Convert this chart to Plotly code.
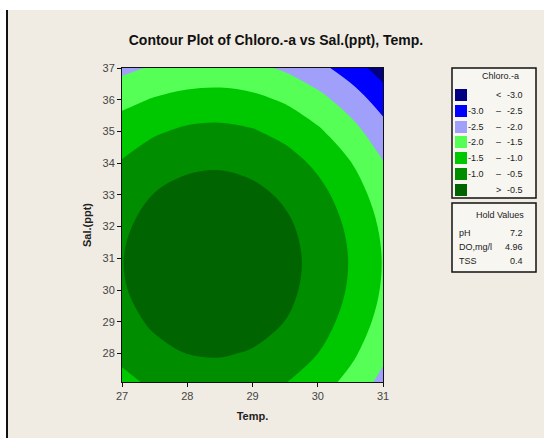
import plotly.graph_objects as go

# ---- data ----
temp = [27.0, 27.5, 28.0, 28.5, 29.0, 29.5, 30.0, 30.5, 31.0]
sal = [27.1, 28, 29, 30, 31, 32, 33, 34, 35, 36, 37]
chloro = [
    [-1.138, -0.896, -0.760, -0.728, -0.802, -0.980, -1.264, -1.652, -2.146],
    [-0.872, -0.630, -0.494, -0.462, -0.536, -0.714, -0.998, -1.386, -1.880],
    [-0.663, -0.421, -0.285, -0.253, -0.327, -0.505, -0.789, -1.177, -1.671],
    [-0.543, -0.301, -0.165, -0.133, -0.207, -0.385, -0.669, -1.057, -1.551],
    [-0.513, -0.271, -0.135, -0.103, -0.177, -0.355, -0.639, -1.027, -1.521],
    [-0.574, -0.332, -0.196, -0.164, -0.238, -0.416, -0.700, -1.088, -1.582],
    [-0.724, -0.482, -0.346, -0.314, -0.388, -0.566, -0.850, -1.238, -1.732],
    [-0.964, -0.722, -0.586, -0.554, -0.628, -0.806, -1.090, -1.478, -1.972],
    [-1.240, -1.053, -0.917, -0.885, -0.959, -1.137, -1.421, -1.809, -2.303],
    [-1.640, -1.460, -1.337, -1.305, -1.379, -1.557, -1.841, -2.229, -2.723],
    [-2.120, -1.940, -1.847, -1.815, -1.889, -2.067, -2.351, -2.739, -3.233],
]
level_labels = [("", "<", "-3.0"), ("-3.0", "–", "-2.5"), ("-2.5", "–", "-2.0"),
                ("-2.0", "–", "-1.5"), ("-1.5", "–", "-1.0"), ("-1.0", "–", "-0.5"),
                ("", ">", "-0.5")]
hold_names = ["pH", "DO,mg/l", "TSS"]
hold_values = ["7.2", "4.96", "0.4"]
x_ticks = [27, 28, 29, 30, 31]
y_ticks = [28, 29, 30, 31, 32, 33, 34, 35, 36, 37]

colors = ["#000080", "#0000FF", "#A0A0FA", "#55FF55", "#00C800", "#008E00", "#006400"]

# ---- layout geometry (pixels) ----
W, H = 544, 438
L, R, T, B = 122, 383, 68, 382
pw, ph = R - L, B - T


def px(x):
    return (x - L) / pw


def py(y):
    return (B - y) / ph


fig = go.Figure()
fig.add_trace(go.Contour(
    x=temp, y=sal, z=chloro,
    autocontour=False,
    contours=dict(start=-3.0, end=-0.5, size=0.5, coloring="fill", showlines=False),
    line=dict(width=0, smoothing=1.0),
    colorscale=[[i / 6, c] for i, c in enumerate(colors)],
    showscale=False,
    hoverinfo="x+y+z",
))

shapes = []
annos = []
# page background details
shapes.append(dict(type="rect", xref="paper", yref="paper", x0=px(8), x1=px(W + 2),
                   y0=py(H + 2), y1=py(10), fillcolor="#F0ECE3", line=dict(width=0), layer="below"))
shapes.append(dict(type="line", xref="paper", yref="paper", x0=px(7), x1=px(7),
                   y0=py(H + 2), y1=py(10), line=dict(color="#111111", width=2), layer="below"))

# legend box
lx0, lx1 = 452, 536
shapes.append(dict(type="rect", xref="paper", yref="paper", x0=px(lx0), x1=px(lx1),
                   y0=py(198), y1=py(68), fillcolor="#F7F6F1", line=dict(color="#111111", width=1.5)))
shapes.append(dict(type="rect", xref="paper", yref="paper", x0=px(lx0), x1=px(lx1),
                   y0=py(272), y1=py(203), fillcolor="#F7F6F1", line=dict(color="#111111", width=1.5)))
fnt = dict(family="Liberation Sans", size=9, color="#222222")
annos.append(dict(x=px(500), y=py(76), xref="paper", yref="paper", text="Chloro.-a",
                  showarrow=False, font=fnt, xanchor="center", yanchor="middle"))
row_y = [95, 111, 127, 142, 158, 174, 190]
for i, (a, d, b) in enumerate(level_labels):
    yc = row_y[i]
    shapes.append(dict(type="rect", xref="paper", yref="paper", x0=px(455), x1=px(467),
                       y0=py(yc + 6), y1=py(yc - 6), fillcolor=colors[i], line=dict(width=0)))
    if a:
        annos.append(dict(x=px(486), y=py(yc), xref="paper", yref="paper", text=a,
                          showarrow=False, font=fnt, xanchor="right", yanchor="middle"))
    annos.append(dict(x=px(498), y=py(yc), xref="paper", yref="paper", text=d,
                      showarrow=False, font=fnt, xanchor="center", yanchor="middle"))
    annos.append(dict(x=px(525), y=py(yc), xref="paper", yref="paper", text=b,
                      showarrow=False, font=fnt, xanchor="right", yanchor="middle"))

annos.append(dict(x=px(500), y=py(215), xref="paper", yref="paper", text="Hold Values",
                  showarrow=False, font=fnt, xanchor="center", yanchor="middle"))
for i, (n, v) in enumerate(zip(hold_names, hold_values)):
    yc = 233 + 14 * i
    annos.append(dict(x=px(457), y=py(yc), xref="paper", yref="paper", text=n,
                      showarrow=False, font=fnt, xanchor="left", yanchor="middle"))
    annos.append(dict(x=px(525), y=py(yc), xref="paper", yref="paper", text=v,
                      showarrow=False, font=fnt, xanchor="right", yanchor="middle"))

axis_common = dict(showgrid=False, zeroline=False, showline=True, linecolor="#111111",
                   linewidth=1, mirror=True, ticks="outside", ticklen=4, tickcolor="#111111",
                   tickfont=dict(family="Liberation Sans", size=11, color="#444444"))

fig.update_layout(
    width=W, height=H,
    margin=dict(l=L, r=W - R, t=T, b=H - B, pad=0),
    paper_bgcolor="white",
    plot_bgcolor="#F0ECE3",
    showlegend=False,
    title=dict(text="<b>Contour Plot of Chloro.-a vs Sal.(ppt), Temp.</b>",
               xref="container", x=276 / W, xanchor="center",
               yref="container", y=1 - 40 / H, yanchor="middle",
               font=dict(family="Liberation Sans", size=14, color="#111111")),
    xaxis=dict(range=[27, 31], tickvals=x_ticks,
               title=dict(text="<b>Temp.</b>", standoff=11,
                          font=dict(family="Liberation Sans", size=11, color="#222222")),
               **axis_common),
    yaxis=dict(range=[27.1, 37], tickvals=y_ticks,
               title=dict(text="<b>Sal.(ppt)</b>", standoff=8,
                          font=dict(family="Liberation Sans", size=11, color="#222222")),
               **axis_common),
    shapes=shapes,
    annotations=annos,
)

fig.write_html("out.html")
